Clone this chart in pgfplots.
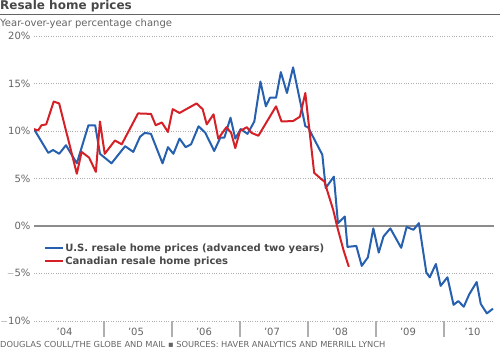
\documentclass[border=0pt]{standalone}
\usepackage{fontspec}
\setmainfont{DejaVu Sans}
\usepackage{pgfplots}
\usepackage{pgfplotstable}
\pgfplotsset{compat=1.18}
\definecolor{usblue}{RGB}{38,96,174}
\definecolor{cared}{RGB}{212,32,38}
\definecolor{txtgray}{RGB}{100,100,100}
\definecolor{titlegray}{RGB}{72,72,72}
\definecolor{gridgray}{RGB}{175,175,175}
\definecolor{zerogray}{RGB}{140,140,140}

\pgfplotstableread{
x y
2003.97 10.2
2004.18 7.7
2004.25 8.0
2004.34 7.6
2004.44 8.5
2004.60 6.6
2004.77 10.6
2004.87 10.6
2004.94 7.6
2005.11 6.6
2005.21 7.5
2005.31 8.4
2005.43 7.8
2005.53 9.4
2005.60 9.8
2005.69 9.7
2005.86 6.6
2005.94 8.3
2006.02 7.6
2006.11 9.2
2006.20 8.3
2006.28 8.6
2006.39 10.5
2006.49 9.8
2006.62 7.9
2006.71 9.3
2006.77 9.3
2006.86 11.4
2006.93 9.2
2007.01 10.2
2007.11 9.7
2007.21 11.0
2007.30 15.2
2007.38 12.6
2007.44 13.5
2007.53 13.5
2007.60 16.2
2007.69 14.0
2007.78 16.7
2007.96 10.5
2008.00 10.4
2008.21 7.5
2008.26 4.0
2008.38 5.2
2008.44 0.3
2008.54 1.0
2008.58 -2.2
2008.71 -2.1
2008.79 -4.2
2008.88 -3.3
2008.96 -0.25
2009.04 -2.8
2009.11 -1.1
2009.21 -0.25
2009.37 -2.3
2009.45 -0.1
2009.55 -0.4
2009.63 0.3
2009.74 -4.9
2009.79 -5.4
2009.88 -4.0
2009.95 -6.3
2010.05 -5.4
2010.14 -8.3
2010.21 -7.9
2010.29 -8.5
2010.37 -7.2
2010.48 -5.9
2010.54 -8.2
2010.63 -9.2
2010.72 -8.7
}\usdata

\pgfplotstableread{
x y
2003.97 10.2
2004.03 10.05
2004.08 10.6
2004.15 10.7
2004.26 13.1
2004.34 12.9
2004.60 5.5
2004.67 7.8
2004.78 7.2
2004.88 5.7
2004.94 11.0
2005.01 7.6
2005.16 9.0
2005.26 8.6
2005.50 11.85
2005.69 11.8
2005.76 10.6
2005.85 10.9
2005.94 9.9
2006.01 12.3
2006.11 11.9
2006.36 12.9
2006.45 12.3
2006.51 10.7
2006.61 11.75
2006.68 9.2
2006.80 10.4
2006.87 9.8
2006.93 8.2
2007.00 10.0
2007.10 10.4
2007.17 9.8
2007.27 9.5
2007.53 12.6
2007.61 11.0
2007.78 11.05
2007.88 11.5
2007.96 14.0
2008.09 5.6
2008.20 4.9
2008.24 4.7
2008.37 1.7
2008.43 -0.1
2008.52 -2.5
2008.60 -4.3
}\cadata

\begin{document}
\begin{tikzpicture}
\useasboundingbox (0,0) rectangle (500pt,350pt);
\begin{axis}[
  at={(34pt,29pt)}, anchor=south west,
  scale only axis, width=460pt, height=285pt,
  xmin=2003.97, xmax=2010.735, ymin=-10, ymax=20,
  axis line style={draw=none},
  tick pos=left,
  major tick length=0pt,
  tick style={draw=gridgray, line width=1.3pt},
  ytick={-10,-5,5,10,15,20},
  yticklabels={$-$10\%,$-$5\%,5\%,10\%,15\%,20\%},
  extra y ticks={0},
  extra y tick labels={0\%},
  extra y tick style={grid=major, major grid style={solid, draw=zerogray, line width=1.1pt}},
  ymajorgrids,
  major grid style={dotted, draw=gridgray, line width=0.8pt},
  xtick={2004.42,2005.47,2006.47,2007.47,2008.47,2009.47,2010.42},
  xticklabels={’04,’05,’06,’07,’08,’09,’10},
  extra x ticks={2005,2006,2007,2008,2009,2010},
  extra x tick labels={},
  extra x tick style={major tick length=16pt, tick align=outside},
  ticklabel style={font=\fontsize{10}{12}\selectfont, text=txtgray},
  xticklabel style={yshift=-4pt},
  legend style={at={(rel axis cs:0.022,0.232)}, anchor=west, draw=none, fill=none,
    inner sep=0pt, font=\bfseries\fontsize{10}{12}\selectfont, text=titlegray,
    row sep=2pt, nodes={inner sep=1pt}},
  legend cell align=left,
  legend image code/.code={\draw[#1, line width=2pt] (0pt,0pt) -- (18pt,0pt);},
]
\addplot[usblue, line width=2pt, line join=round] table[x=x,y=y] {\usdata};
\addlegendentry{U.S. resale home prices (advanced two years)}
\addplot[cared, line width=2pt, line join=round] table[x=x,y=y] {\cadata};
\addlegendentry{Canadian resale home prices}
\end{axis}
\node[anchor=base west, inner sep=0pt, font=\bfseries\fontsize{12}{14}\selectfont, text=titlegray] at (0pt,340pt) {Resale home prices};
\draw[line width=1pt, draw=txtgray] (0pt,335pt) -- (500pt,335pt);
\node[anchor=base west, inner sep=0pt, font=\fontsize{10}{12}\selectfont, text=txtgray] at (0pt,323.5pt) {Year-over-year percentage change};
\node[anchor=base west, inner sep=0pt, font=\fontsize{8.3}{10}\selectfont, text=txtgray] at (0pt,2pt) {DOUGLAS COULL/THE GLOBE AND MAIL ▪ SOURCES: HAVER ANALYTICS AND MERRILL LYNCH};
\end{tikzpicture}
\end{document}
